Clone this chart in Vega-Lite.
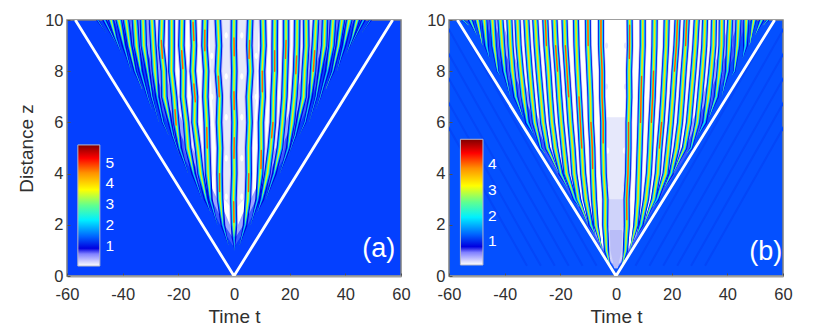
{"$schema":"https://vega.github.io/schema/vega-lite/v6.json","background":"white","bounds":"flush","spacing":48,"padding":{"left":16,"top":11,"right":0,"bottom":0},
"config":{"font":"Liberation Sans","axis":{"grid":false,"labelFlush":false,"labelOverlap":false,"labelFont":"Liberation Sans","titleFont":"Liberation Sans","labelFontSize":16.5,"titleFontSize":19,"titleFontWeight":"normal","labelColor":"#303030","titleColor":"#303030","tickColor":"#505050","tickSize":-3,"domainColor":"#a0a0a0","domainWidth":2,"labelPadding":7}},
"datasets":{
"cone":[{"t":-57,"z":10},{"t":0,"z":0},{"t":57,"z":10}],
"a_f":[
{"id":"c","t":0.2,"z":1.0,"s":0},{"id":"c","t":0,"z":1.5,"s":1},{"id":"c","t":0,"z":2,"s":2},{"id":"c","t":-0.2,"z":3,"s":2},{"id":"c","t":0.1,"z":4,"s":2},{"id":"c","t":0,"z":5,"s":2},{"id":"c","t":0.2,"z":6,"s":2},{"id":"c","t":-0.1,"z":7,"s":2},{"id":"c","t":0.1,"z":8,"s":2},{"id":"c","t":-0.1,"z":9,"s":2},{"id":"c","t":0,"z":10,"s":2},
{"id":"L1","t":-2,"z":1.2,"s":0},{"id":"L1","t":-4,"z":2,"s":1},{"id":"L1","t":-5,"z":3,"s":2},{"id":"L1","t":-5.2,"z":4,"s":2},{"id":"L1","t":-5,"z":5,"s":2},{"id":"L1","t":-5.4,"z":6,"s":2},{"id":"L1","t":-5.1,"z":7,"s":2},{"id":"L1","t":-5.8,"z":8,"s":2},{"id":"L1","t":-5.4,"z":9,"s":2},{"id":"L1","t":-5.8,"z":10,"s":2},
{"id":"R1","t":2,"z":1.2,"s":0},{"id":"R1","t":4,"z":2,"s":1},{"id":"R1","t":5,"z":3,"s":2},{"id":"R1","t":5.3,"z":4,"s":2},{"id":"R1","t":5.2,"z":5,"s":2},{"id":"R1","t":5.6,"z":6,"s":2},{"id":"R1","t":5.3,"z":7,"s":2},{"id":"R1","t":5.9,"z":8,"s":2},{"id":"R1","t":5.5,"z":9,"s":2},{"id":"R1","t":5.8,"z":10,"s":2},
{"id":"L2","t":-6,"z":2,"s":0},{"id":"L2","t":-8.5,"z":3,"s":1},{"id":"L2","t":-9.3,"z":4,"s":2},{"id":"L2","t":-9.6,"z":5,"s":2},{"id":"L2","t":-9.8,"z":6,"s":2},{"id":"L2","t":-10.3,"z":7,"s":2},{"id":"L2","t":-10,"z":8,"s":2},{"id":"L2","t":-10.6,"z":9,"s":2},{"id":"L2","t":-10.4,"z":10,"s":2},
{"id":"R2","t":6,"z":2,"s":0},{"id":"R2","t":8.5,"z":3,"s":1},{"id":"R2","t":9.4,"z":4,"s":2},{"id":"R2","t":9.8,"z":5,"s":2},{"id":"R2","t":9.7,"z":6,"s":2},{"id":"R2","t":10.3,"z":7,"s":2},{"id":"R2","t":10.1,"z":8,"s":2},{"id":"R2","t":10.6,"z":9,"s":2},{"id":"R2","t":10.4,"z":10,"s":2},
{"id":"L3","t":-8.5,"z":2.5,"s":0},{"id":"L3","t":-10,"z":3,"s":1},{"id":"L3","t":-12,"z":4,"s":2},{"id":"L3","t":-13,"z":5,"s":2},{"id":"L3","t":-14.2,"z":6,"s":2},{"id":"L3","t":-14,"z":7,"s":2},{"id":"L3","t":-14.8,"z":8,"s":2},{"id":"L3","t":-14.4,"z":9,"s":2},{"id":"L3","t":-14.7,"z":10,"s":2},
{"id":"R3","t":8.5,"z":2.5,"s":0},{"id":"R3","t":10,"z":3,"s":1},{"id":"R3","t":12,"z":4,"s":2},{"id":"R3","t":13.2,"z":5,"s":2},{"id":"R3","t":14,"z":6,"s":2},{"id":"R3","t":14.2,"z":7,"s":2},{"id":"R3","t":14.6,"z":8,"s":2},{"id":"R3","t":14.6,"z":9,"s":2},{"id":"R3","t":14.7,"z":10,"s":2},
{"id":"L4","t":-11.5,"z":3,"s":0},{"id":"L4","t":-14.5,"z":4,"s":1},{"id":"L4","t":-16.5,"z":5,"s":2},{"id":"L4","t":-17.2,"z":6,"s":2},{"id":"L4","t":-18.3,"z":7,"s":2},{"id":"L4","t":-18.2,"z":8,"s":2},{"id":"L4","t":-18.9,"z":9,"s":2},{"id":"L4","t":-18.7,"z":10,"s":2},
{"id":"R4","t":11.5,"z":3,"s":0},{"id":"R4","t":14.5,"z":4,"s":1},{"id":"R4","t":16.5,"z":5,"s":2},{"id":"R4","t":17.4,"z":6,"s":2},{"id":"R4","t":18.1,"z":7,"s":2},{"id":"R4","t":18.4,"z":8,"s":2},{"id":"R4","t":18.7,"z":9,"s":2},{"id":"R4","t":18.7,"z":10,"s":2},
{"id":"L5","t":-16.5,"z":4,"s":0},{"id":"L5","t":-19.5,"z":5,"s":1},{"id":"L5","t":-20.8,"z":6,"s":2},{"id":"L5","t":-21.5,"z":7,"s":2},{"id":"L5","t":-22.5,"z":8,"s":2},{"id":"L5","t":-22.4,"z":9,"s":2},{"id":"L5","t":-22.4,"z":10,"s":2},
{"id":"R5","t":16.5,"z":4,"s":0},{"id":"R5","t":19.5,"z":5,"s":1},{"id":"R5","t":20.8,"z":6,"s":2},{"id":"R5","t":21.7,"z":7,"s":2},{"id":"R5","t":22.3,"z":8,"s":2},{"id":"R5","t":22.6,"z":9,"s":2},{"id":"R5","t":22.7,"z":10,"s":2},
{"id":"L6","t":-19.5,"z":4.7,"s":0},{"id":"L6","t":-22,"z":5.5,"s":0.6},{"id":"L6","t":-23,"z":6,"s":1},{"id":"L6","t":-25,"z":7,"s":2},{"id":"L6","t":-25.2,"z":8,"s":2},{"id":"L6","t":-26.2,"z":9,"s":2},{"id":"L6","t":-25.9,"z":10,"s":2},
{"id":"R6","t":19.5,"z":4.7,"s":0},{"id":"R6","t":22,"z":5.5,"s":0.6},{"id":"R6","t":23,"z":6,"s":1},{"id":"R6","t":25,"z":7,"s":2},{"id":"R6","t":25.4,"z":8,"s":2},{"id":"R6","t":26,"z":9,"s":2},{"id":"R6","t":25.9,"z":10,"s":2},
{"id":"L7","t":-23.5,"z":5.5,"s":0},{"id":"L7","t":-25.5,"z":6,"s":0.5},{"id":"L7","t":-27.5,"z":7,"s":1},{"id":"L7","t":-28.4,"z":8,"s":2},{"id":"L7","t":-29,"z":9,"s":2},{"id":"L7","t":-29.5,"z":10,"s":2},
{"id":"R7","t":23.5,"z":5.5,"s":0},{"id":"R7","t":25.5,"z":6,"s":0.5},{"id":"R7","t":27.5,"z":7,"s":1},{"id":"R7","t":28.4,"z":8,"s":2},{"id":"R7","t":29,"z":9,"s":2},{"id":"R7","t":29.5,"z":10,"s":2},
{"id":"L8","t":-27,"z":6,"s":0},{"id":"L8","t":-29.5,"z":7,"s":0.6},{"id":"L8","t":-31,"z":8,"s":1.2},{"id":"L8","t":-32.4,"z":9,"s":2},{"id":"L8","t":-32.7,"z":10,"s":2},
{"id":"R8","t":27,"z":6,"s":0},{"id":"R8","t":29.5,"z":7,"s":0.6},{"id":"R8","t":31,"z":8,"s":1.2},{"id":"R8","t":32.4,"z":9,"s":2},{"id":"R8","t":32.7,"z":10,"s":2},
{"id":"L9","t":-29.5,"z":6.5,"s":0},{"id":"L9","t":-31,"z":7,"s":0.4},{"id":"L9","t":-33.5,"z":8,"s":1},{"id":"L9","t":-35,"z":9,"s":2},{"id":"L9","t":-35.6,"z":10,"s":2},
{"id":"R9","t":29.5,"z":6.5,"s":0},{"id":"R9","t":31,"z":7,"s":0.4},{"id":"R9","t":33.5,"z":8,"s":1},{"id":"R9","t":35,"z":9,"s":2},{"id":"R9","t":35.6,"z":10,"s":2},
{"id":"L10","t":-33,"z":7.3,"s":0},{"id":"L10","t":-35.5,"z":8,"s":0.7},{"id":"L10","t":-37.5,"z":9,"s":1.5},{"id":"L10","t":-38.8,"z":10,"s":2},
{"id":"R10","t":33,"z":7.3,"s":0},{"id":"R10","t":35.5,"z":8,"s":0.7},{"id":"R10","t":37.5,"z":9,"s":1.5},{"id":"R10","t":38.8,"z":10,"s":2},
{"id":"L11","t":-37,"z":8,"s":0},{"id":"L11","t":-39.5,"z":9,"s":1},{"id":"L11","t":-41.4,"z":10,"s":2},
{"id":"R11","t":37,"z":8,"s":0},{"id":"R11","t":39.5,"z":9,"s":1},{"id":"R11","t":41.4,"z":10,"s":2},
{"id":"L12","t":-40.5,"z":8.7,"s":0},{"id":"L12","t":-42.5,"z":9.3,"s":0.8},{"id":"L12","t":-44.2,"z":10,"s":1.7},
{"id":"R12","t":40.5,"z":8.7,"s":0},{"id":"R12","t":42.5,"z":9.3,"s":0.8},{"id":"R12","t":44.2,"z":10,"s":1.7},
{"id":"L13","t":-42,"z":9,"s":0},{"id":"L13","t":-46.5,"z":10,"s":0.9},{"id":"R13","t":42,"z":9,"s":0},{"id":"R13","t":46.5,"z":10,"s":0.9},
{"id":"L14","t":-46,"z":9.5,"s":0},{"id":"L14","t":-49,"z":10,"s":0.5},{"id":"R14","t":46,"z":9.5,"s":0},{"id":"R14","t":49,"z":10,"s":0.5}
],
"a_h":[
{"id":"h1","t":0,"z":2.1},{"id":"h1","t":-0.1,"z":2.9},{"id":"h2","t":0,"z":4.6},{"id":"h2","t":0.1,"z":5.4},{"id":"h3","t":0.1,"z":6.5},{"id":"h3","t":0,"z":7.2},{"id":"h4","t":0.1,"z":8.6},{"id":"h4","t":0,"z":9.3},
{"id":"h5","t":-5.2,"z":3.3},{"id":"h5","t":-5.2,"z":4},{"id":"h6","t":-5.3,"z":7},{"id":"h6","t":-5.6,"z":7.8},{"id":"h7","t":5.2,"z":3.3},{"id":"h7","t":5.3,"z":4},{"id":"h8","t":5.4,"z":8.5},{"id":"h8","t":5.6,"z":9.2},
{"id":"h9","t":-9.6,"z":5},{"id":"h9","t":-9.8,"z":5.8},{"id":"h10","t":-10.5,"z":8.8},{"id":"h10","t":-10.5,"z":9.6},{"id":"h11","t":9.7,"z":4.2},{"id":"h11","t":9.8,"z":4.9},{"id":"h12","t":10.2,"z":7.2},{"id":"h12","t":10.2,"z":8},
{"id":"h13","t":-13.9,"z":6.8},{"id":"h13","t":-14.4,"z":7.5},{"id":"h14","t":-18.4,"z":8.1},{"id":"h14","t":-18.8,"z":8.8},{"id":"h15","t":-20.8,"z":5.9},{"id":"h15","t":-21.2,"z":6.5},{"id":"h16","t":13.5,"z":5.4},{"id":"h16","t":14,"z":6},
{"id":"h17","t":18.5,"z":8.5},{"id":"h17","t":18.7,"z":9.2},{"id":"h18","t":22.2,"z":7.9},{"id":"h18","t":22.5,"z":8.6},{"id":"h19","t":-25.7,"z":8.5},{"id":"h19","t":-26.1,"z":9.2},{"id":"h20","t":28.5,"z":8},{"id":"h20","t":29,"z":8.8},{"id":"h21","t":14.6,"z":8},{"id":"h21","t":14.6,"z":8.8},{"id":"h22","t":-14.4,"z":9.2},{"id":"h22","t":-14.7,"z":9.9}
],
"a_a":[
{"l":"l1","z":1.2,"t":-0.5,"t2":0.5},{"l":"l1","z":2,"t":-5,"t2":5},{"l":"l1","z":3,"t":-9.5,"t2":9.5},{"l":"l1","z":5,"t":-20,"t2":20},{"l":"l1","z":7,"t":-28,"t2":28},{"l":"l1","z":9,"t":-35,"t2":35},{"l":"l1","z":10,"t":-38,"t2":38},
{"l":"l2","z":1.5,"t":-0.5,"t2":0.5},{"l":"l2","z":2,"t":-3.5,"t2":3.5},{"l":"l2","z":3,"t":-8,"t2":8},{"l":"l2","z":5,"t":-17,"t2":17},{"l":"l2","z":7,"t":-25,"t2":25},{"l":"l2","z":9,"t":-32,"t2":32},{"l":"l2","z":10,"t":-34,"t2":34},
{"l":"l3","z":1.7,"t":-0.3,"t2":0.3},{"l":"l3","z":2.4,"t":-3,"t2":3},{"l":"l3","z":3,"t":-6,"t2":6},{"l":"l3","z":5,"t":-15,"t2":15},{"l":"l3","z":7,"t":-22,"t2":22},{"l":"l3","z":9,"t":-28,"t2":28},{"l":"l3","z":10,"t":-31,"t2":31},
{"l":"l4","z":2.6,"t":-0.5,"t2":0.5},{"l":"l4","z":3,"t":-3.5,"t2":3.5},{"l":"l4","z":4,"t":-6,"t2":6},{"l":"l4","z":5,"t":-6.5,"t2":6.5},{"l":"l4","z":7,"t":-8,"t2":8},{"l":"l4","z":10,"t":-9,"t2":9}
],
"a_b":[
{"k":"w","t":-2.8,"z":3.1},{"k":"w","t":2.8,"z":3.1},{"k":"w","t":-2.8,"z":4.6},{"k":"w","t":2.8,"z":4.6},{"k":"w","t":-2.8,"z":6.2},{"k":"w","t":2.8,"z":6.2},{"k":"w","t":-2.8,"z":7.8},{"k":"w","t":2.8,"z":7.8},{"k":"w","t":-2.8,"z":9.4},{"k":"w","t":2.8,"z":9.4},
{"k":"w","t":-7.8,"z":4},{"k":"w","t":7.8,"z":4},{"k":"w","t":-7.8,"z":5.5},{"k":"w","t":7.8,"z":5.5},{"k":"w","t":-8,"z":7},{"k":"w","t":8,"z":7},{"k":"w","t":-8,"z":8.6},{"k":"w","t":8,"z":8.6}
],
"a_c":[{"t":-56.1,"t2":-48.2,"z":5.12,"z2":0.39}],
"a_l":[{"t":-44.6,"z":4.41,"n":"5"},{"t":-44.6,"z":3.63,"n":"4"},{"t":-44.6,"z":2.8,"n":"3"},{"t":-44.6,"z":1.99,"n":"2"},{"t":-44.6,"z":1.17,"n":"1"}],
"a_p":[{"t":52,"z":1.05,"n":"(a)"}],
"b_s":[
{"id":"s1","t":-7,"z":0.4},{"id":"s1","t":-57,"z":10},{"id":"s2","t":-12,"z":0.4},{"id":"s2","t":-62,"z":10},{"id":"s3","t":-17,"z":0.4},{"id":"s3","t":-67,"z":10},{"id":"s4","t":-22,"z":0.4},{"id":"s4","t":-72,"z":10},{"id":"s5","t":-27,"z":0.4},{"id":"s5","t":-77,"z":10},{"id":"s6","t":-32,"z":0.4},{"id":"s6","t":-82,"z":10},
{"id":"s7","t":7,"z":0.4},{"id":"s7","t":57,"z":10},{"id":"s8","t":12,"z":0.4},{"id":"s8","t":62,"z":10},{"id":"s9","t":17,"z":0.4},{"id":"s9","t":67,"z":10},{"id":"s10","t":22,"z":0.4},{"id":"s10","t":72,"z":10},{"id":"s11","t":27,"z":0.4},{"id":"s11","t":77,"z":10},{"id":"s12","t":32,"z":0.4},{"id":"s12","t":82,"z":10}
],
"b_a":[
{"l":"l1","z":0.3,"t":-0.5,"t2":0.5},{"l":"l1","z":1,"t":-5,"t2":5},{"l":"l1","z":3,"t":-15.5,"t2":15.5},{"l":"l1","z":5,"t":-27,"t2":27},{"l":"l1","z":7,"t":-36,"t2":36},{"l":"l1","z":9,"t":-44,"t2":44},{"l":"l1","z":10,"t":-47,"t2":47},
{"l":"l2","z":0.3,"t":-0.4,"t2":0.4},{"l":"l2","z":1,"t":-4.5,"t2":4.5},{"l":"l2","z":3,"t":-14.5,"t2":14.5},{"l":"l2","z":5,"t":-25,"t2":25},{"l":"l2","z":7,"t":-33,"t2":33},{"l":"l2","z":9,"t":-41,"t2":41},{"l":"l2","z":10,"t":-44,"t2":44},
{"l":"l3","z":0.4,"t":-0.3,"t2":0.3},{"l":"l3","z":1,"t":-4,"t2":4},{"l":"l3","z":3,"t":-13.5,"t2":13.5},{"l":"l3","z":5,"t":-23.5,"t2":23.5},{"l":"l3","z":7,"t":-31,"t2":31},{"l":"l3","z":9,"t":-38,"t2":38},{"l":"l3","z":10,"t":-41,"t2":41},
{"l":"l4","z":1,"t":-3.5,"t2":3.5},{"l":"l4","z":3,"t":-4,"t2":4},{"l":"l4","z":5,"t":-4.5,"t2":4.5},{"l":"l4","z":6.2,"t":-5,"t2":5},
{"l":"l5","z":0.5,"t":-1.5,"t2":1.5},{"l":"l5","z":1,"t":-3,"t2":3},{"l":"l5","z":3,"t":-3.8,"t2":3.8},
{"l":"l6","z":0.3,"t":-0.6,"t2":0.6},{"l":"l6","z":1,"t":-2,"t2":2},{"l":"l6","z":1.8,"t":-2.2,"t2":2.2}
],
"b_b":[
{"k":"w","t":-3,"z":4.9},{"k":"w","t":3,"z":4.9},{"k":"w","t":-3,"z":3.4},{"k":"w","t":3,"z":3.4},{"k":"w","t":-3,"z":1.8},{"k":"w","t":3,"z":1.8},
{"k":"p","t":-3.4,"z":7.4},{"k":"p","t":3.4,"z":7.4},{"k":"p","t":-3.4,"z":9},{"k":"p","t":3.4,"z":9}
],
"b_f":[
{"id":"L1","t":-2.2,"z":0.4,"s":0},{"id":"L1","t":-3.4,"z":1,"s":1.5},{"id":"L1","t":-3.9,"z":2,"s":2},{"id":"L1","t":-3.8,"z":3,"s":2},{"id":"L1","t":-4.4,"z":4,"s":2},{"id":"L1","t":-4.6,"z":5,"s":2},{"id":"L1","t":-4.6,"z":6,"s":2},{"id":"L1","t":-5,"z":7,"s":2},{"id":"L1","t":-5,"z":8,"s":2},{"id":"L1","t":-5.4,"z":9,"s":2},{"id":"L1","t":-5.4,"z":10,"s":2},
{"id":"R1","t":2.2,"z":0.4,"s":0},{"id":"R1","t":3.4,"z":1,"s":1.5},{"id":"R1","t":3.9,"z":2,"s":2},{"id":"R1","t":3.8,"z":3,"s":2},{"id":"R1","t":4.3,"z":4,"s":2},{"id":"R1","t":4.5,"z":5,"s":2},{"id":"R1","t":4.5,"z":6,"s":2},{"id":"R1","t":4.8,"z":7,"s":2},{"id":"R1","t":4.7,"z":8,"s":2},{"id":"R1","t":5,"z":9,"s":2},{"id":"R1","t":4.9,"z":10,"s":2},
{"id":"L2","t":-5,"z":1,"s":0},{"id":"L2","t":-7.2,"z":2,"s":1.7},{"id":"L2","t":-7.9,"z":3,"s":2},{"id":"L2","t":-8.3,"z":4,"s":2},{"id":"L2","t":-8.5,"z":5,"s":2},{"id":"L2","t":-9,"z":6,"s":2},{"id":"L2","t":-9.2,"z":7,"s":2},{"id":"L2","t":-9.6,"z":8,"s":2},{"id":"L2","t":-10,"z":9,"s":2},{"id":"L2","t":-10.1,"z":10,"s":2},
{"id":"R2","t":5,"z":1,"s":0},{"id":"R2","t":7.2,"z":2,"s":1.7},{"id":"R2","t":7.9,"z":3,"s":2},{"id":"R2","t":8.2,"z":4,"s":2},{"id":"R2","t":8.5,"z":5,"s":2},{"id":"R2","t":8.8,"z":6,"s":2},{"id":"R2","t":9,"z":7,"s":2},{"id":"R2","t":9.3,"z":8,"s":2},{"id":"R2","t":9.6,"z":9,"s":2},{"id":"R2","t":9.6,"z":10,"s":2},
{"id":"L3","t":-7.5,"z":1.6,"s":0},{"id":"L3","t":-9,"z":2,"s":1.2},{"id":"L3","t":-10.8,"z":3,"s":2},{"id":"L3","t":-11.8,"z":4,"s":2},{"id":"L3","t":-12.3,"z":5,"s":2},{"id":"L3","t":-12.8,"z":6,"s":2},{"id":"L3","t":-13.3,"z":7,"s":2},{"id":"L3","t":-13.8,"z":8,"s":2},{"id":"L3","t":-14.2,"z":9,"s":2},{"id":"L3","t":-14.4,"z":10,"s":2},
{"id":"R3","t":7.5,"z":1.6,"s":0},{"id":"R3","t":9,"z":2,"s":1.2},{"id":"R3","t":10.8,"z":3,"s":2},{"id":"R3","t":11.8,"z":4,"s":2},{"id":"R3","t":12.3,"z":5,"s":2},{"id":"R3","t":12.7,"z":6,"s":2},{"id":"R3","t":13.2,"z":7,"s":2},{"id":"R3","t":13.5,"z":8,"s":2},{"id":"R3","t":13.8,"z":9,"s":2},{"id":"R3","t":13.9,"z":10,"s":2},
{"id":"L4","t":-10,"z":2,"s":0},{"id":"L4","t":-13.5,"z":3,"s":1.6},{"id":"L4","t":-15,"z":4,"s":2},{"id":"L4","t":-15.6,"z":5,"s":2},{"id":"L4","t":-16.4,"z":6,"s":2},{"id":"L4","t":-17,"z":7,"s":2},{"id":"L4","t":-17.6,"z":8,"s":2},{"id":"L4","t":-18.2,"z":9,"s":2},{"id":"L4","t":-18.5,"z":10,"s":2},
{"id":"R4","t":10,"z":2,"s":0},{"id":"R4","t":13.5,"z":3,"s":1.6},{"id":"R4","t":15,"z":4,"s":2},{"id":"R4","t":15.6,"z":5,"s":2},{"id":"R4","t":16.4,"z":6,"s":2},{"id":"R4","t":17,"z":7,"s":2},{"id":"R4","t":17.5,"z":8,"s":2},{"id":"R4","t":18,"z":9,"s":2},{"id":"R4","t":18.2,"z":10,"s":2},
{"id":"L5","t":-13.2,"z":2.7,"s":0},{"id":"L5","t":-14.8,"z":3,"s":0.8},{"id":"L5","t":-17.8,"z":4,"s":2},{"id":"L5","t":-18.8,"z":5,"s":2},{"id":"L5","t":-19.7,"z":6,"s":2},{"id":"L5","t":-20.4,"z":7,"s":2},{"id":"L5","t":-21,"z":8,"s":2},{"id":"L5","t":-21.7,"z":9,"s":2},{"id":"L5","t":-22.1,"z":10,"s":2},
{"id":"R5","t":13.2,"z":2.7,"s":0},{"id":"R5","t":14.8,"z":3,"s":0.8},{"id":"R5","t":17.8,"z":4,"s":2},{"id":"R5","t":18.8,"z":5,"s":2},{"id":"R5","t":19.7,"z":6,"s":2},{"id":"R5","t":20.4,"z":7,"s":2},{"id":"R5","t":21,"z":8,"s":2},{"id":"R5","t":21.7,"z":9,"s":2},{"id":"R5","t":22.1,"z":10,"s":2},
{"id":"L6","t":-17.2,"z":3.4,"s":0},{"id":"L6","t":-19.8,"z":4,"s":1.2},{"id":"L6","t":-21.8,"z":5,"s":2},{"id":"L6","t":-23,"z":6,"s":2},{"id":"L6","t":-23.7,"z":7,"s":2},{"id":"L6","t":-24.3,"z":8,"s":2},{"id":"L6","t":-25,"z":9,"s":2},{"id":"L6","t":-25.4,"z":10,"s":2},
{"id":"R6","t":17.2,"z":3.4,"s":0},{"id":"R6","t":19.8,"z":4,"s":1.2},{"id":"R6","t":21.8,"z":5,"s":2},{"id":"R6","t":23,"z":6,"s":2},{"id":"R6","t":23.7,"z":7,"s":2},{"id":"R6","t":24.3,"z":8,"s":2},{"id":"R6","t":25,"z":9,"s":2},{"id":"R6","t":25.4,"z":10,"s":2},
{"id":"L7","t":-20.5,"z":4,"s":0},{"id":"L7","t":-24.6,"z":5,"s":1.5},{"id":"L7","t":-26.2,"z":6,"s":2},{"id":"L7","t":-27,"z":7,"s":2},{"id":"L7","t":-27.8,"z":8,"s":2},{"id":"L7","t":-28.5,"z":9,"s":2},{"id":"L7","t":-29,"z":10,"s":2},
{"id":"R7","t":20.5,"z":4,"s":0},{"id":"R7","t":24.6,"z":5,"s":1.5},{"id":"R7","t":26.2,"z":6,"s":2},{"id":"R7","t":27,"z":7,"s":2},{"id":"R7","t":27.8,"z":8,"s":2},{"id":"R7","t":28.5,"z":9,"s":2},{"id":"R7","t":29,"z":10,"s":2},
{"id":"L8","t":-25.5,"z":4.8,"s":0},{"id":"L8","t":-27,"z":5,"s":0.6},{"id":"L8","t":-29.2,"z":6,"s":1.7},{"id":"L8","t":-30.2,"z":7,"s":2},{"id":"L8","t":-31,"z":8,"s":2},{"id":"L8","t":-31.7,"z":9,"s":2},{"id":"L8","t":-32.2,"z":10,"s":2},
{"id":"R8","t":25.5,"z":4.8,"s":0},{"id":"R8","t":27,"z":5,"s":0.6},{"id":"R8","t":29.2,"z":6,"s":1.7},{"id":"R8","t":30.2,"z":7,"s":2},{"id":"R8","t":31,"z":8,"s":2},{"id":"R8","t":31.7,"z":9,"s":2},{"id":"R8","t":32,"z":10,"s":2},
{"id":"L9","t":-29.5,"z":5.5,"s":0},{"id":"L9","t":-31.8,"z":6,"s":1},{"id":"L9","t":-33.2,"z":7,"s":2},{"id":"L9","t":-34.2,"z":8,"s":2},{"id":"L9","t":-35,"z":9,"s":2},{"id":"L9","t":-35.4,"z":10,"s":2},
{"id":"R9","t":29.5,"z":5.5,"s":0},{"id":"R9","t":31.8,"z":6,"s":1},{"id":"R9","t":33.2,"z":7,"s":2},{"id":"R9","t":34.2,"z":8,"s":2},{"id":"R9","t":35,"z":9,"s":2},{"id":"R9","t":35.2,"z":10,"s":2},
{"id":"L10","t":-33.5,"z":6.2,"s":0},{"id":"L10","t":-36,"z":7,"s":1.2},{"id":"L10","t":-37.2,"z":8,"s":2},{"id":"L10","t":-37.9,"z":9,"s":2},{"id":"L10","t":-38.3,"z":10,"s":2},
{"id":"R10","t":33.5,"z":6.2,"s":0},{"id":"R10","t":36,"z":7,"s":1.2},{"id":"R10","t":37.2,"z":8,"s":2},{"id":"R10","t":37.9,"z":9,"s":2},{"id":"R10","t":38,"z":10,"s":2},
{"id":"L11","t":-38,"z":7,"s":0},{"id":"L11","t":-40,"z":8,"s":1.1},{"id":"L11","t":-40.9,"z":9,"s":2},{"id":"L11","t":-41.5,"z":10,"s":2},
{"id":"R11","t":38,"z":7,"s":0},{"id":"R11","t":40,"z":8,"s":1.1},{"id":"R11","t":40.6,"z":9,"s":2},{"id":"R11","t":41,"z":10,"s":2},
{"id":"L12","t":-41.5,"z":7.8,"s":0},{"id":"L12","t":-42.5,"z":8,"s":0.5},{"id":"L12","t":-43.8,"z":9,"s":1.7},{"id":"L12","t":-44.4,"z":10,"s":2},
{"id":"R12","t":41.5,"z":7.8,"s":0},{"id":"R12","t":42.5,"z":8,"s":0.5},{"id":"R12","t":43.6,"z":9,"s":1.7},{"id":"R12","t":44,"z":10,"s":2},
{"id":"L13","t":-45.5,"z":8.5,"s":0},{"id":"L13","t":-46.5,"z":9,"s":1},{"id":"L13","t":-47.3,"z":10,"s":2},
{"id":"R13","t":45.5,"z":8.5,"s":0},{"id":"R13","t":46.5,"z":9,"s":1},{"id":"R13","t":46.8,"z":10,"s":2},
{"id":"L14","t":-48,"z":9,"s":0},{"id":"L14","t":-49.8,"z":10,"s":1.7},{"id":"R14","t":48,"z":9,"s":0},{"id":"R14","t":49.5,"z":10,"s":1.7},
{"id":"L15","t":-50,"z":9.4,"s":0},{"id":"L15","t":-52.3,"z":10,"s":1.2},{"id":"R15","t":50,"z":9.4,"s":0},{"id":"R15","t":52.3,"z":10,"s":1.2},
{"id":"L16","t":-53,"z":9.8,"s":0},{"id":"L16","t":-55,"z":10,"s":0.6},{"id":"R16","t":53,"z":9.8,"s":0},{"id":"R16","t":54.5,"z":10,"s":0.6}
],
"b_h":[
{"id":"h1","t":-4.6,"z":5.2},{"id":"h1","t":-4.6,"z":6},{"id":"h1","t":-5,"z":7},{"id":"h1","t":-5,"z":8},{"id":"h1","t":-5.4,"z":9},{"id":"h1","t":-5.4,"z":10},
{"id":"h2","t":3.9,"z":2.2},{"id":"h2","t":3.8,"z":3},{"id":"h2","t":4.3,"z":4},{"id":"h2","t":4.5,"z":5},{"id":"h2","t":4.5,"z":6},{"id":"h2b","t":4.8,"z":8.5},{"id":"h2b","t":4.9,"z":9.8},
{"id":"h3","t":-8.4,"z":4.2},{"id":"h3","t":-8.5,"z":5},{"id":"h3","t":-9,"z":6},{"id":"h3b","t":-10,"z":9},{"id":"h3b","t":-10.1,"z":10},
{"id":"h4","t":8.8,"z":6},{"id":"h4","t":9,"z":7},{"id":"h4","t":9.2,"z":7.8},
{"id":"h5","t":-12.3,"z":5},{"id":"h5","t":-12.8,"z":6},{"id":"h5","t":-13.3,"z":7},{"id":"h6","t":12.7,"z":6},{"id":"h6","t":13.2,"z":7},{"id":"h6","t":13.5,"z":8},
{"id":"h7","t":-17,"z":7},{"id":"h7","t":-17.6,"z":8},{"id":"h7","t":-18.2,"z":9},{"id":"h8","t":15.6,"z":5},{"id":"h8","t":16.4,"z":6},
{"id":"h9","t":-21,"z":8},{"id":"h9","t":-21.7,"z":9},{"id":"h10","t":21,"z":8},{"id":"h10","t":21.7,"z":9},{"id":"h10","t":22.1,"z":10},
{"id":"h11","t":-25,"z":9},{"id":"h11","t":-25.4,"z":10},{"id":"h12","t":25,"z":9},{"id":"h12","t":25.4,"z":10}
],
"b_c":[{"t":-55.9,"t2":-47.8,"z":5.34,"z2":0.43}],
"b_l":[{"t":-44.4,"z":4.37,"n":"4"},{"t":-44.4,"z":3.36,"n":"3"},{"t":-44.4,"z":2.35,"n":"2"},{"t":-44.4,"z":1.38,"n":"1"}],
"b_p":[{"t":53.8,"z":0.94,"n":"(b)"}]
},
"hconcat":[
{"width":334,"height":256,"view":{"fill":"#0440ff","stroke":"#808080","strokeWidth":1.5},"resolve":{"scale":{"size":"independent"}},
"encoding":{"x":{"field":"t","type":"quantitative","scale":{"domain":[-60,60],"nice":false},"axis":{"values":[-60,-40,-20,0,20,40,60],"title":"Time t","labelExpr":"''+datum.value","titlePadding":5,"labelPadding":13}},"y":{"field":"z","type":"quantitative","scale":{"domain":[0,10],"nice":false},"axis":{"values":[0,2,4,6,8,10],"title":"Distance z","domain":false,"titlePadding":8}}},
"layer":[
{"data":{"name":"a_a"},"mark":{"type":"area","orient":"horizontal","clip":true},"encoding":{"x2":{"field":"t2"},"color":{"field":"l","type":"nominal","legend":null,"scale":{"domain":["l1","l2","l3","l4","l5","l6","w","p"],"range":["#3a5cff","#9aa8ff","#ffffff","#e6e8fb","#cfd3fa","#b9bdf8","#ffffff","#e6e8fb"]}}}},
{"data":{"name":"a_b"},"mark":{"type":"point","filled":true,"opacity":1,"size":40,"shape":"M-0.5,0a0.5,1 0 1,0 1,0a0.5,1 0 1,0 -1,0"},"encoding":{"color":{"field":"k","type":"nominal","legend":null}}},
{"data":{"name":"a_f"},"mark":{"type":"trail","clip":true,"color":"#8f8fff","opacity":0.6},"encoding":{"detail":{"field":"id"},"order":{"field":"z"},"size":{"field":"s","type":"quantitative","legend":null,"scale":{"domain":[0,1,2],"range":[0.05,0.05,8.5]}}}},
{"data":{"name":"a_f"},"mark":{"type":"trail","clip":true,"color":"#0000d8"},"encoding":{"detail":{"field":"id"},"order":{"field":"z"},"size":{"field":"s","type":"quantitative","legend":null,"scale":{"domain":[0,1,2],"range":[0.05,4.8,6.5]}}}},
{"data":{"name":"a_f"},"mark":{"type":"trail","clip":true,"color":"#0070ff"},"encoding":{"detail":{"field":"id"},"order":{"field":"z"},"size":{"field":"s","type":"quantitative","legend":null,"scale":{"domain":[0,1,2],"range":[0.05,2.2,5]}}}},
{"data":{"name":"a_f"},"mark":{"type":"trail","clip":true,"color":"#00e0ff"},"encoding":{"detail":{"field":"id"},"order":{"field":"z"},"size":{"field":"s","type":"quantitative","legend":null,"scale":{"domain":[0,1,2],"range":[0.05,0.8,3.6]}}}},
{"data":{"name":"a_f"},"mark":{"type":"trail","clip":true,"color":"#50ff90"},"encoding":{"detail":{"field":"id"},"order":{"field":"z"},"size":{"field":"s","type":"quantitative","legend":null,"scale":{"domain":[0,1,2],"range":[0.05,0.05,2.4]}}}},
{"data":{"name":"a_f"},"mark":{"type":"trail","clip":true,"color":"#ffe800"},"encoding":{"detail":{"field":"id"},"order":{"field":"z"},"size":{"field":"s","type":"quantitative","legend":null,"scale":{"domain":[0,1,2],"range":[0.05,0.05,1.2]}}}},
{"data":{"name":"a_h"},"mark":{"type":"line","clip":true,"stroke":"#ff6000","strokeWidth":1.4,"strokeCap":"round"},"encoding":{"detail":{"field":"id"},"order":{"field":"z"}}},
{"data":{"name":"cone"},"mark":{"type":"line","clip":true,"stroke":"#ffffff","strokeWidth":2.8}},
{"data":{"name":"a_c"},"mark":{"type":"rect","stroke":"#b8b8c8","strokeWidth":1,"color":{"gradient":"linear","x1":0,"y1":1,"x2":0,"y2":0,"stops":[{"offset":0,"color":"#ffffff"},{"offset":0.1,"color":"#8080ff"},{"offset":0.146,"color":"#0000e0"},{"offset":0.24,"color":"#0060ff"},{"offset":0.38,"color":"#00f0ff"},{"offset":0.5,"color":"#60ff90"},{"offset":0.63,"color":"#ffff00"},{"offset":0.77,"color":"#ff9000"},{"offset":0.89,"color":"#ff0000"},{"offset":1,"color":"#800000"}]}},"encoding":{"x2":{"field":"t2"},"y2":{"field":"z2"}}},
{"data":{"name":"a_l"},"mark":{"type":"text","color":"#ffffff","fontSize":15.5,"font":"Liberation Sans"},"encoding":{"text":{"field":"n"}}},
{"data":{"name":"a_p"},"mark":{"type":"text","color":"#ffffff","fontSize":27,"font":"Liberation Sans"},"encoding":{"text":{"field":"n"}}}
]},
{"width":334,"height":256,"view":{"fill":"#0450ff","stroke":"#808080","strokeWidth":1.5},"resolve":{"scale":{"size":"independent"}},
"encoding":{"x":{"field":"t","type":"quantitative","scale":{"domain":[-60,60],"nice":false},"axis":{"values":[-60,-40,-20,0,20,40,60],"title":"Time t","labelExpr":"''+datum.value","titlePadding":5,"labelPadding":13}},"y":{"field":"z","type":"quantitative","scale":{"domain":[0,10],"nice":false},"axis":{"values":[0,2,4,6,8,10],"title":null,"domain":false}}},
"layer":[
{"data":{"name":"b_s"},"mark":{"type":"line","clip":true,"stroke":"#0446f8","strokeWidth":2},"encoding":{"detail":{"field":"id"},"order":{"field":"z"}}},
{"data":{"name":"b_a"},"mark":{"type":"area","orient":"horizontal","clip":true},"encoding":{"x2":{"field":"t2"},"color":{"field":"l","type":"nominal","legend":null,"scale":{"domain":["l1","l2","l3","l4","l5","l6","w","p"],"range":["#3a5cff","#9aa8ff","#ffffff","#e6e8fb","#cfd3fa","#b9bdf8","#ffffff","#e6e8fb"]}}}},
{"data":{"name":"b_b"},"mark":{"type":"point","filled":true,"opacity":1,"size":40,"shape":"M-0.5,0a0.5,1 0 1,0 1,0a0.5,1 0 1,0 -1,0"},"encoding":{"color":{"field":"k","type":"nominal","legend":null}}},
{"data":{"name":"b_f"},"mark":{"type":"trail","clip":true,"color":"#8f8fff","opacity":0.6},"encoding":{"detail":{"field":"id"},"order":{"field":"z"},"size":{"field":"s","type":"quantitative","legend":null,"scale":{"domain":[0,1,2],"range":[0.05,0.05,7.5]}}}},
{"data":{"name":"b_f"},"mark":{"type":"trail","clip":true,"color":"#0000d8"},"encoding":{"detail":{"field":"id"},"order":{"field":"z"},"size":{"field":"s","type":"quantitative","legend":null,"scale":{"domain":[0,1,2],"range":[0.05,4.8,6]}}}},
{"data":{"name":"b_f"},"mark":{"type":"trail","clip":true,"color":"#0070ff"},"encoding":{"detail":{"field":"id"},"order":{"field":"z"},"size":{"field":"s","type":"quantitative","legend":null,"scale":{"domain":[0,1,2],"range":[0.05,2.8,4.8]}}}},
{"data":{"name":"b_f"},"mark":{"type":"trail","clip":true,"color":"#00e0ff"},"encoding":{"detail":{"field":"id"},"order":{"field":"z"},"size":{"field":"s","type":"quantitative","legend":null,"scale":{"domain":[0,1,2],"range":[0.05,1.4,3.6]}}}},
{"data":{"name":"b_f"},"mark":{"type":"trail","clip":true,"color":"#50ff90"},"encoding":{"detail":{"field":"id"},"order":{"field":"z"},"size":{"field":"s","type":"quantitative","legend":null,"scale":{"domain":[0,1,2],"range":[0.05,0.05,2.5]}}}},
{"data":{"name":"b_f"},"mark":{"type":"trail","clip":true,"color":"#ffe000"},"encoding":{"detail":{"field":"id"},"order":{"field":"z"},"size":{"field":"s","type":"quantitative","legend":null,"scale":{"domain":[0,1,2],"range":[0.05,0.05,1.4]}}}},
{"data":{"name":"b_h"},"mark":{"type":"line","clip":true,"stroke":"#ff5000","strokeWidth":1.3,"strokeCap":"round"},"encoding":{"detail":{"field":"id"},"order":{"field":"z"}}},
{"data":{"name":"cone"},"mark":{"type":"line","clip":true,"stroke":"#ffffff","strokeWidth":2.8}},
{"data":{"name":"b_c"},"mark":{"type":"rect","stroke":"#b8b8c8","strokeWidth":1,"color":{"gradient":"linear","x1":0,"y1":1,"x2":0,"y2":0,"stops":[{"offset":0,"color":"#ffffff"},{"offset":0.1,"color":"#8080ff"},{"offset":0.146,"color":"#0000e0"},{"offset":0.24,"color":"#0060ff"},{"offset":0.38,"color":"#00f0ff"},{"offset":0.5,"color":"#60ff90"},{"offset":0.63,"color":"#ffff00"},{"offset":0.77,"color":"#ff9000"},{"offset":0.89,"color":"#ff0000"},{"offset":1,"color":"#800000"}]}},"encoding":{"x2":{"field":"t2"},"y2":{"field":"z2"}}},
{"data":{"name":"b_l"},"mark":{"type":"text","color":"#ffffff","fontSize":15.5,"font":"Liberation Sans"},"encoding":{"text":{"field":"n"}}},
{"data":{"name":"b_p"},"mark":{"type":"text","color":"#ffffff","fontSize":27,"font":"Liberation Sans"},"encoding":{"text":{"field":"n"}}}
]}
]}
